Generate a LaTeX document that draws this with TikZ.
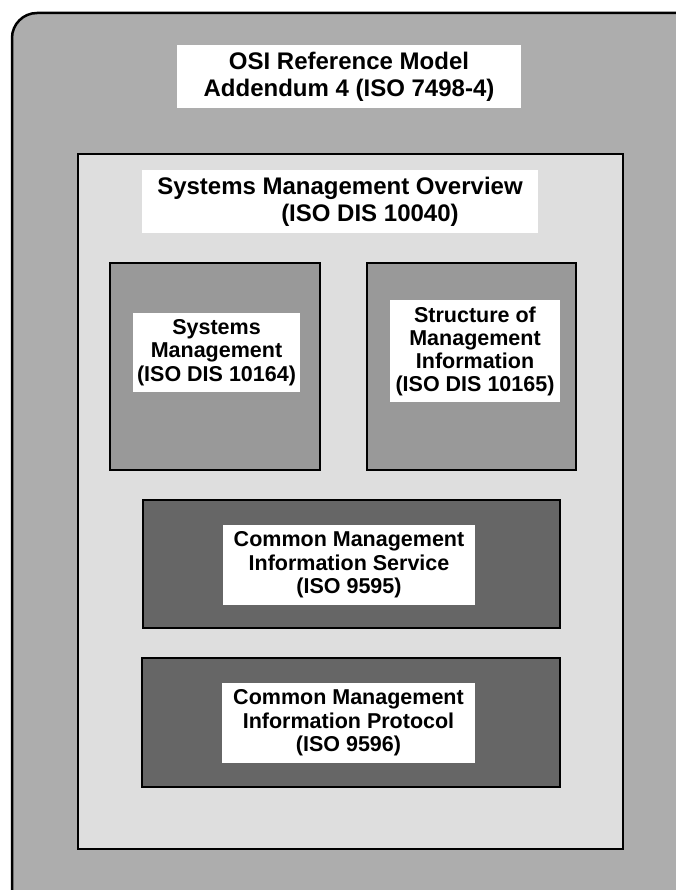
\documentclass[tikz,border=0pt]{standalone}
\usepackage{fontspec}
\setmainfont{Liberation Sans}
\newcommand\headfnt{\fontsize{24}{27}\selectfont\bfseries}
\newcommand\boxfnt{\fontsize{21.5}{23.5}\selectfont\bfseries}
\begin{document}
\begin{tikzpicture}[x=1pt,y=-1pt,
	frame/.style={draw=black,line width=2pt},
	whitelbl/.style={fill=white,inner sep=0pt,align=center,font=\boxfnt}]
	\useasboundingbox (0,0) rectangle (676,890);
	\clip (0,0) rectangle (676,890);
	% outer frame, runs off the page at right and bottom
	\draw[frame,line width=2.5pt,fill=black!32,rounded corners=25pt] (12,13) rectangle (720,940);
	\node[whitelbl,font=\headfnt,minimum width=344pt,minimum height=63pt] (osi) at (349,76.5) {OSI Reference Model\\Addendum 4 (ISO 7498-4)};
	% overview
	\draw[frame,fill=black!13] (78,154) rectangle (623,849);
	\node[whitelbl,font=\headfnt,align=left,minimum width=396pt,minimum height=63pt] (smo) at (340,201.5) {Systems Management Overview\\\hspace*{124pt}(ISO DIS 10040)};
	% upper pair
	\draw[frame,fill=black!40] (110,263) rectangle (320,470);
	\draw[frame,fill=black!40] (367,263) rectangle (576,470);
	\node[whitelbl,minimum width=167pt,minimum height=79pt] (sm) at (216.5,352.5) {Systems\\Management\\(ISO DIS 10164)};
	\node[whitelbl,minimum width=170pt,minimum height=102pt,font=\fontsize{21.5}{23}\selectfont\bfseries] (smi) at (475,351) {Structure of\\Management\\Information\\(ISO DIS 10165)};
	% service and protocol
	\draw[frame,fill=black!60] (143,500) rectangle (560,628);
	\node[whitelbl,minimum width=252pt,minimum height=80pt] (cmis) at (349,565) {Common Management\\Information Service\\(ISO 9595)};
	\draw[frame,fill=black!60] (142,658) rectangle (560,787);
	\node[whitelbl,minimum width=253pt,minimum height=80pt] (cmip) at (348.5,723) {Common Management\\Information Protocol\\(ISO 9596)};
\end{tikzpicture}
\end{document}
